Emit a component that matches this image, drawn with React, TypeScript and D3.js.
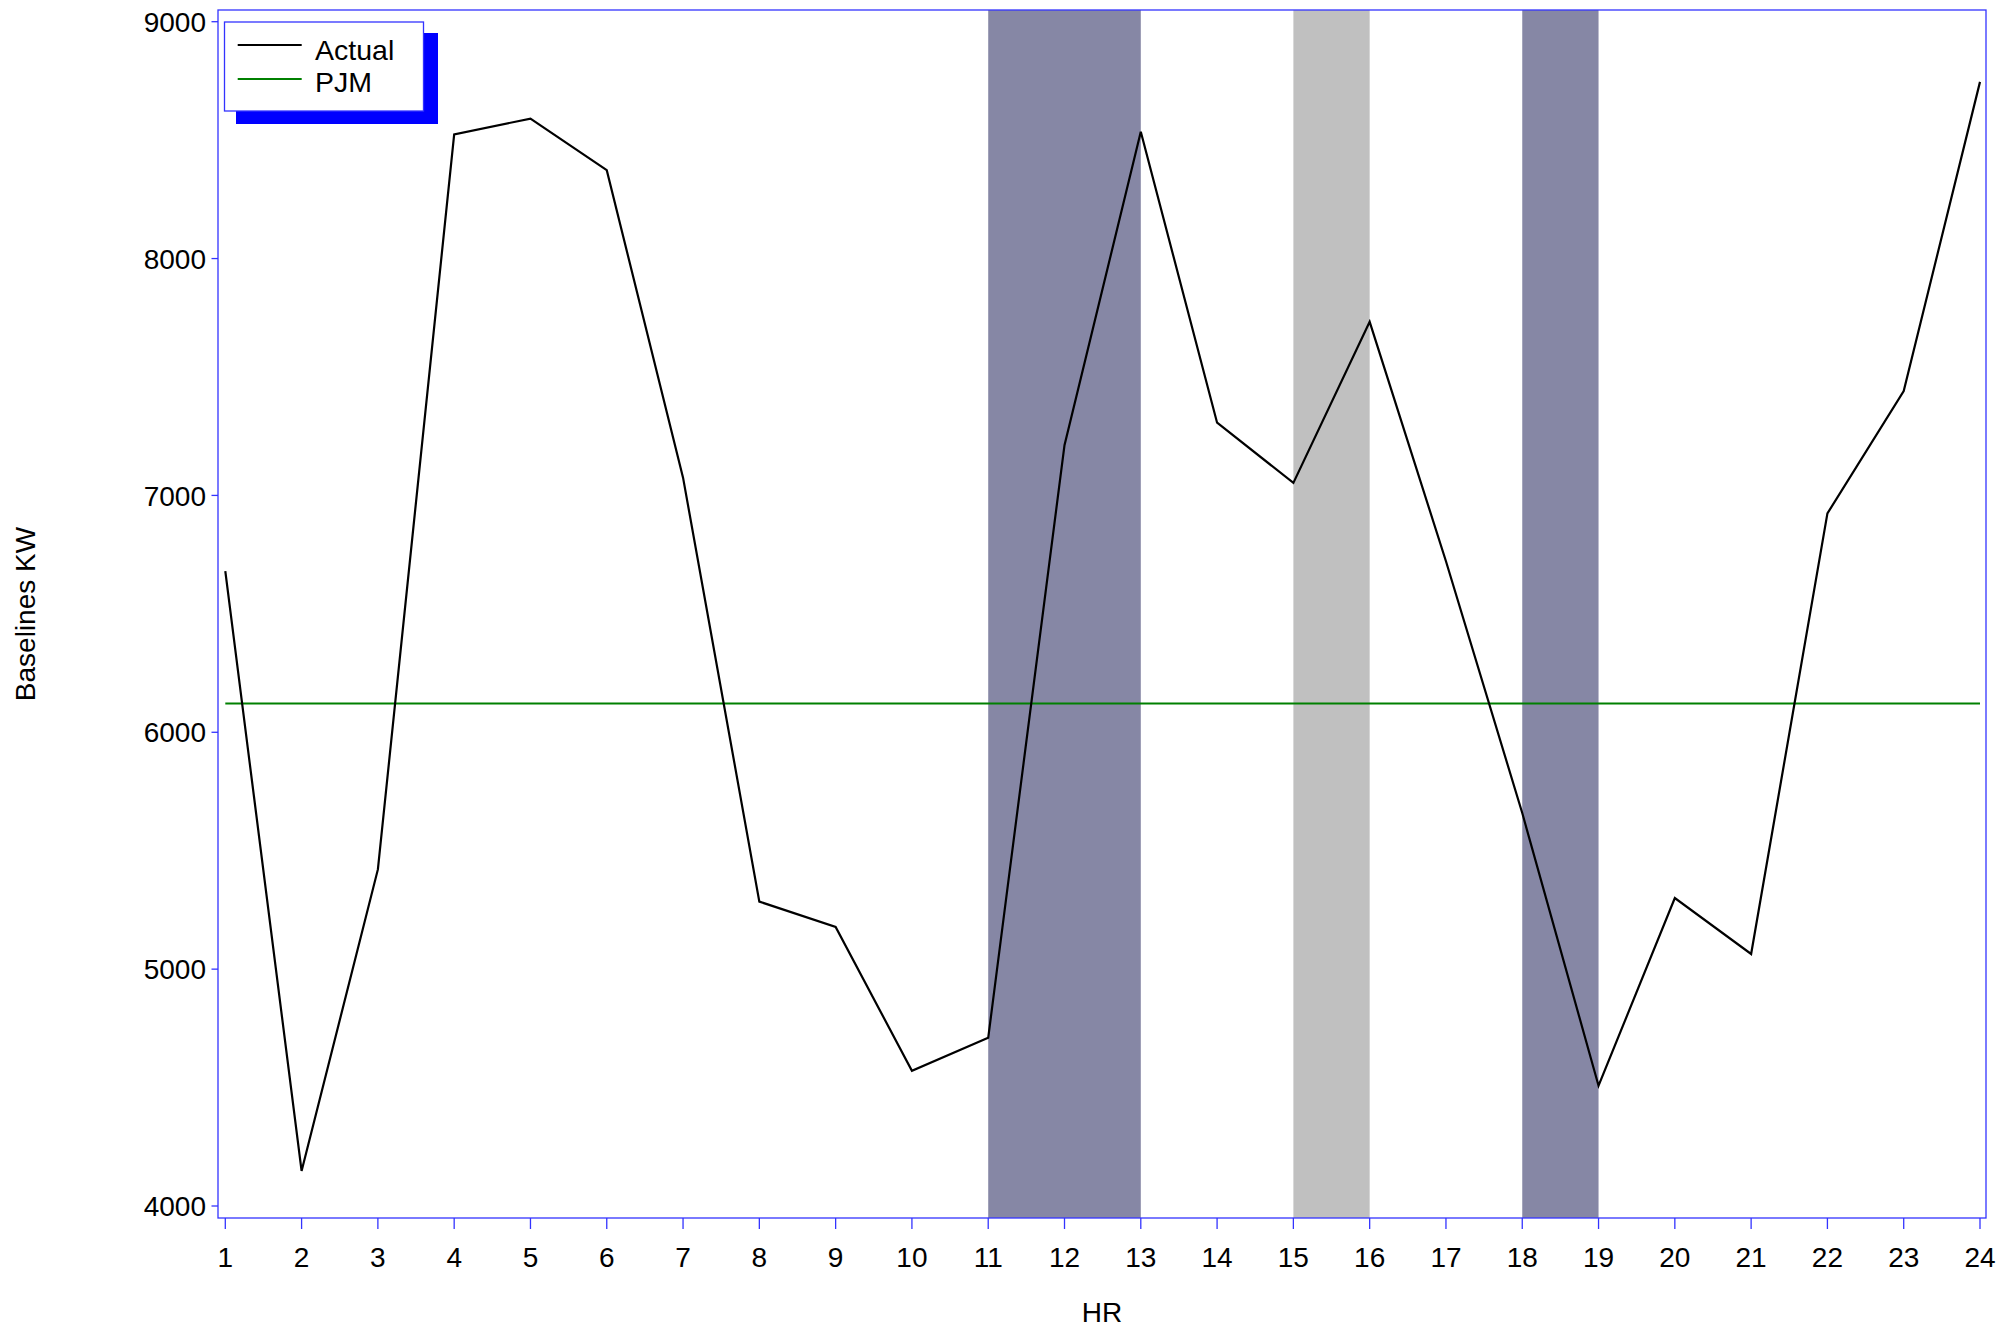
import React from "react";
import * as d3 from "d3";

const hours = [1,2,3,4,5,6,7,8,9,10,11,12,13,14,15,16,17,18,19,20,21,22,23,24];
const actual = [6680,4148,5421,8524,8591,8373,7075,5285,5178,4571,4710,7212,8535,7307,7053,7733,6722,5659,4508,5300,5064,6924,7441,8746];
const pjm = 6121;
const yTicks = [4000,5000,6000,7000,8000,9000];
const darkBands = [[11,13],[18,19]];
const lightBands = [[15,16]];
const legendItems = [{ label: "Actual", color: "#000000" }, { label: "PJM", color: "#008000" }];

const W = 2016, H = 1330;
const FL = 218, FR = 1986, FT = 10, FB = 1218;

export default function App() {
  const x = d3.scaleLinear().domain([1, 24]).range([225.3, 1980]);
  const y = d3.scaleLinear().domain([4000, 9000]).range([1206, 21.7]);
  const line = d3.line<number>().x((_, i) => x(hours[i])).y((d) => y(d));
  const font = "'Liberation Sans', Arial, sans-serif";
  return (
    <svg width={W} height={H} style={{ position: "absolute", left: 0, top: 0, background: "#fff" }} fontFamily={font}>
      <rect x={0} y={0} width={W} height={H} fill="#fff" />
      {darkBands.map(([a, b], i) => (
        <rect key={"d" + i} x={x(a)} y={FT} width={x(b) - x(a)} height={FB - FT} fill="#8687a5" />
      ))}
      {lightBands.map(([a, b], i) => (
        <rect key={"l" + i} x={x(a)} y={FT} width={x(b) - x(a)} height={FB - FT} fill="#c0c0c0" />
      ))}
      <line x1={x(1)} x2={x(24)} y1={y(pjm)} y2={y(pjm)} stroke="#008000" strokeWidth={2} />
      <path d={line(actual) || ""} fill="none" stroke="#000" strokeWidth={2.2} strokeLinejoin="miter" />
      <rect x={FL} y={FT} width={FR - FL} height={FB - FT} fill="none" stroke="#3333ff" strokeWidth={1.3} />
      {yTicks.map((t) => (
        <g key={t}>
          <line x1={FL - 6.5} x2={FL} y1={y(t)} y2={y(t)} stroke="#3333ff" strokeWidth={1.3} />
          <text x={206} y={y(t)} dy="0.36em" textAnchor="end" fontSize={28} fill="#000">{t}</text>
        </g>
      ))}
      {hours.map((h) => (
        <g key={h}>
          <line x1={x(h)} x2={x(h)} y1={FB} y2={FB + 11} stroke="#3333ff" strokeWidth={1.3} />
          <text x={x(h)} y={1267} textAnchor="middle" fontSize={28} fill="#000">{h}</text>
        </g>
      ))}
      <text x={(FL + FR) / 2} y={1322} textAnchor="middle" fontSize={28} fill="#000">HR</text>
      <text transform={`translate(34.5, ${(FT + FB) / 2}) rotate(-90)`} textAnchor="middle" fontSize={28} fill="#000">Baselines KW</text>
      <rect x={236} y={33} width={202} height={91} fill="#0000ff" />
      <rect x={224.5} y={22} width={199} height={89} fill="#fff" stroke="#3333ff" strokeWidth={1.3} />
      {legendItems.map((it, i) => (
        <g key={it.label}>
          <line x1={237.7} x2={301.7} y1={45 + i * 34} y2={45 + i * 34} stroke={it.color} strokeWidth={2.2} />
          <text x={315} y={59.5 + i * 32.5} fontSize={28.5} fill="#000">{it.label}</text>
        </g>
      ))}
    </svg>
  );
}
